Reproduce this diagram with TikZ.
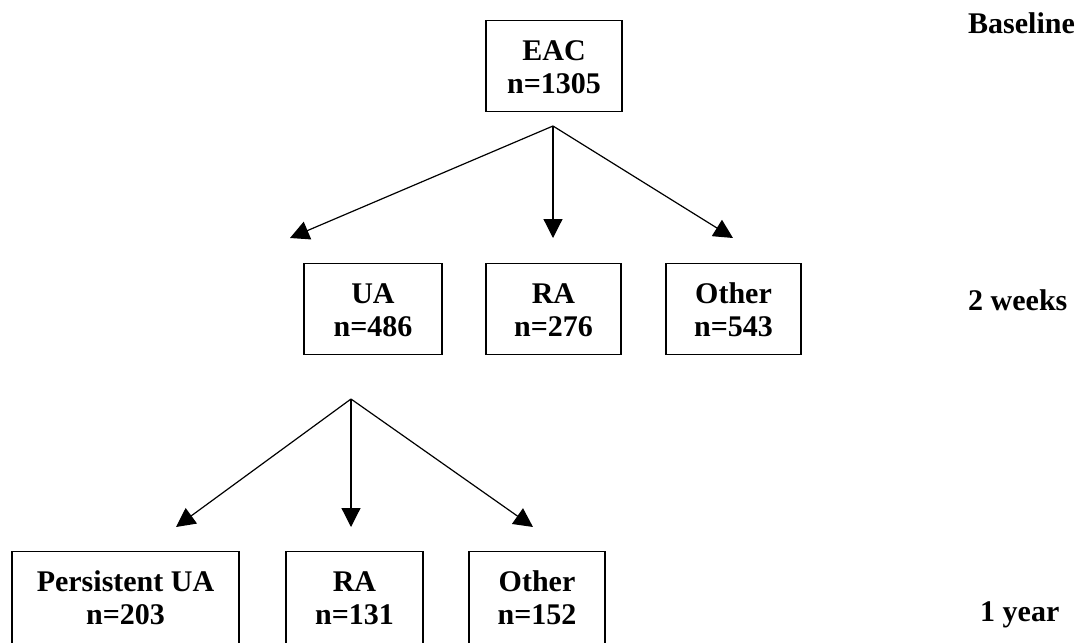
\documentclass[tikz,border=0pt]{standalone}
\usepackage{fontspec}
\setmainfont{Liberation Serif}
\usetikzlibrary{arrows.meta}
\begin{document}
\begin{tikzpicture}[x=1pt,y=-1pt,
  box/.style={draw, line width=1.2pt, inner xsep=0pt, inner ysep=0pt, align=center,
    anchor=north, text height=73pt, text depth=18pt,
    font=\fontsize{30}{33}\selectfont\bfseries},
  conn/.style={line width=1.2pt, -{Triangle[length=19pt,width=19pt]}},
  lbl/.style={anchor=base west, inner sep=0pt, font=\fontsize{30}{33}\selectfont\bfseries}]
\useasboundingbox (0,0) rectangle (1080,643);
% level 0
\node[box, minimum width=136pt] (eac) at (554,20) {EAC\\n=1305};
% level 1
\node[box, minimum width=138pt] (ua) at (373,263) {UA\\n=486};
\node[box, minimum width=135pt] (ra) at (553.5,263) {RA\\n=276};
\node[box, minimum width=135pt] (oth) at (733.5,263) {Other\\n=543};
% level 2
\node[box, minimum width=227pt, text depth=60pt] (pua) at (125.5,551) {Persistent UA\\n=203};
\node[box, minimum width=137pt, text depth=60pt] (ra2) at (354.5,551) {RA\\n=131};
\node[box, minimum width=136pt, text depth=60pt] (oth2) at (537,551) {Other\\n=152};
% connector points
\coordinate (s1) at (553,126);
\coordinate (t1a) at (290,238);
\coordinate (t1b) at (553,238);
\coordinate (t1c) at (733,238);
\coordinate (s2) at (351,399);
\coordinate (t2a) at (176,527);
\coordinate (t2b) at (351,527);
\coordinate (t2c) at (533,527);
\draw[conn] (s1) -- (t1a);
\draw[conn] (s1) -- (t1b);
\draw[conn] (s1) -- (t1c);
\draw[conn] (s2) -- (t2a);
\draw[conn] (s2) -- (t2b);
\draw[conn] (s2) -- (t2c);
% time labels
\node[lbl] (tb) at (968,33) {Baseline};
\node[lbl] (tw) at (968,310) {2 weeks};
\node[lbl] (ty) at (980,621) {1 year};
\end{tikzpicture}
\end{document}
